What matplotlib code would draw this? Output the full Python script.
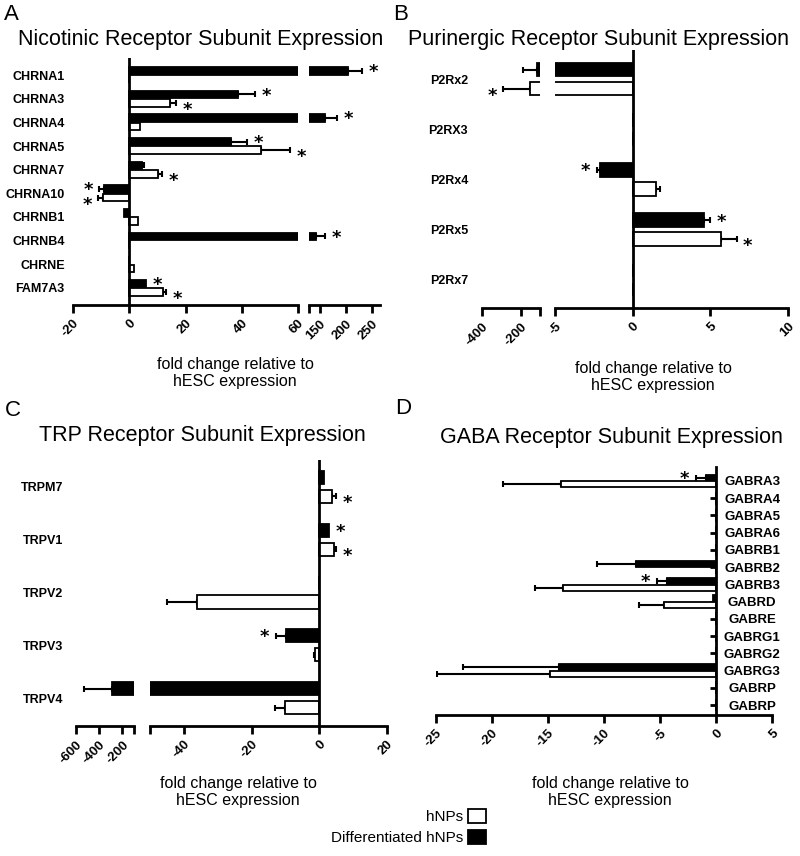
import numpy as np
import matplotlib.pyplot as plt
from matplotlib.patches import Patch

plt.rcParams['font.family'] = ['Liberation Sans', 'DejaVu Sans']

# A - nicotinic
nic_genes = ['CHRNA1', 'CHRNA3', 'CHRNA4', 'CHRNA5', 'CHRNA7',
             'CHRNA10', 'CHRNB1', 'CHRNB4', 'CHRNE', 'FAM7A3']
nic_diff = [204, 38.8, 160, 36, 4.6, -8.9, -1.8, 143, 0, 6]
nic_diff_err = [27, 6, 23, 6, 0.5, 1.8, 0, 17, 0, 0]
nic_diff_sig = [1, 1, 1, 1, 0, 1, 0, 1, 0, 1]
nic_hnp = [0, 14.6, 3.8, 47, 10.3, -9.3, 3.2, 0, 1.8, 12.1]
nic_hnp_err = [0, 2.1, 0, 10.3, 1.4, 1.8, 0, 0, 0, 1.0]
nic_hnp_sig = [0, 1, 0, 1, 1, 1, 0, 0, 0, 1]

# B - purinergic
p2_genes = ['P2Rx2', 'P2RX3', 'P2Rx4', 'P2Rx5', 'P2Rx7']
p2_diff = [-116, 0, -2.1, 4.6, 0]
p2_diff_err = [72, 0, 0.2, 0.4, 0]
p2_diff_sig = [0, 0, 1, 1, 0]
p2_hnp = [-152, 0, 1.5, 5.7, 0]
p2_hnp_err = [139, 0, 0.25, 1.0, 0]
p2_hnp_sig = [1, 0, 0, 1, 0]

# C - TRP
trp_genes = ['TRPM7', 'TRPV1', 'TRPV2', 'TRPV3', 'TRPV4']
trp_diff = [1.5, 3.0, 0, -9.8, -290]
trp_diff_err = [0, 0, 0, 3.0, 241]
trp_diff_sig = [0, 1, 0, 1, 0]
trp_hnp = [3.9, 4.2, -36.2, -1.2, -10]
trp_hnp_err = [1.1, 0.8, 8.9, 0.4, 3]
trp_hnp_sig = [1, 1, 0, 0, 0]

# D - GABA
gaba_genes = ['GABRA3', 'GABRA4', 'GABRA5', 'GABRA6', 'GABRB1', 'GABRB2', 'GABRB3',
              'GABRD', 'GABRE', 'GABRG1', 'GABRG2', 'GABRG3', 'GABRP', 'GABRP']
gaba_diff = [-0.9, 0, 0, 0, 0, -7.1, -4.4, -0.3, 0, 0, 0, -14.0, 0, 0]
gaba_diff_err = [0.9, 0, 0, 0, 0, 3.5, 0.9, 0, 0, 0, 0, 8.6, 0, 0]
gaba_diff_sig = [1, 0, 0, 0, 0, 0, 1, 0, 0, 0, 0, 0, 0, 0]
gaba_hnp = [-13.8, 0, 0, 0, 0, 0, -13.7, -4.6, 0, 0, 0, -14.8, 0, 0]
gaba_hnp_err = [5.2, 0, 0, 0, 0, 0, 2.5, 2.3, 0, 0, 0, 10.1, 0, 0]
gaba_hnp_sig = [0] * 14

XLABEL = 'fold change relative to\nhESC expression'


def draw_bars(ax, n, diff, diff_err, diff_sig, hnp, hnp_err, hnp_sig, h, off):
    y = np.arange(n)
    # black bars sit above the row centre, their star a little higher; white below
    series = [(diff, diff_err, diff_sig, y - off, 'black', -1),
              (hnp, hnp_err, hnp_sig, y + off, 'white', -5)]
    for vals, errs, sig, yy, col, dy in series:
        vals = np.asarray(vals, float)
        errs = np.asarray(errs, float)
        ax.barh(yy, vals, height=h, color=col, edgecolor='black', linewidth=1.3, zorder=2)
        m = errs > 0
        lo = np.where(vals < 0, errs, 0)[m]
        hi = np.where(vals >= 0, errs, 0)[m]
        ax.errorbar(vals[m], yy[m], xerr=[lo, hi], fmt='none', ecolor='black',
                    elinewidth=1.5, capsize=2.5, capthick=1.5, zorder=1)
        for v, e, s, yv in zip(vals, errs, sig, yy):
            if s:
                sign = -1 if v < 0 else 1
                ax.annotate('*', (v + sign * e, yv), xytext=(sign * 8, dy),
                            textcoords='offset points', ha='center', va='center',
                            fontsize=13, fontweight='bold', family='DejaVu Sans')


def style(ax, xlim, ylim, ticks, labels):
    ax.set_xlim(xlim)
    ax.set_ylim(ylim)
    for s in ('top', 'right', 'left'):
        ax.spines[s].set_visible(False)
    ax.spines['bottom'].set_linewidth(2)
    ax.set_xticks(ticks)
    ax.set_xticklabels(labels, rotation=45, ha='right', va='top',
                       rotation_mode='anchor', fontweight='bold', fontsize=9.5)
    ax.tick_params(axis='x', direction='out', length=6, width=2, pad=3)
    ax.tick_params(axis='y', length=0)
    ax.set_facecolor('none')


def ylabels(ax, genes, pad):
    ax.set_yticks(np.arange(len(genes)))
    ax.set_yticklabels(genes, fontweight='bold', fontsize=9)
    ax.tick_params(axis='y', length=0, pad=pad)


def hide_y(ax):
    ax.set_yticks([])


W, H = 800, 856
fig = plt.figure(figsize=(8, 8.56), dpi=100)


def px_axes(x0, x1, y0, y1):
    return fig.add_axes([x0 / W, 1 - y1 / H, (x1 - x0) / W, (y1 - y0) / H])


# ---- panel A
a1 = px_axes(73, 298, 58, 305)
a2 = px_axes(309, 380, 58, 305)
ylimA = (9.72, -0.72)
for ax in (a1, a2):
    draw_bars(ax, 10, nic_diff, nic_diff_err, nic_diff_sig,
              nic_hnp, nic_hnp_err, nic_hnp_sig, 0.32, 0.18)
style(a1, (-20, 60), ylimA, [-20, 0, 20, 40, 60], ['-20', '0', '20', '40', '60'])
style(a2, (130, 265), ylimA, [130, 150, 200, 250], ['', '150', '200', '250'])
a1.axvline(0, color='black', lw=2, zorder=3)
ylabels(a1, nic_genes, 6)
hide_y(a2)

# ---- panel B
b1 = px_axes(482, 540, 50, 308)
b2 = px_axes(555, 788, 50, 308)
ylimB = (4.56, -0.58)
for ax in (b1, b2):
    draw_bars(ax, 5, p2_diff, p2_diff_err, p2_diff_sig,
              p2_hnp, p2_hnp_err, p2_hnp_sig, 0.27, 0.19)
style(b1, (-400, -100), ylimB, [-400, -200, -100], ['-400', '-200', ''])
style(b2, (-5, 10), ylimB, [-5, 0, 5, 10], ['-5', '0', '5', '10'])
b2.axvline(0, color='black', lw=2, zorder=3)
ylabels(b1, p2_genes, 10)
hide_y(b2)

# ---- panel C
c1 = px_axes(76, 134, 460, 726)
c2 = px_axes(150, 387, 460, 726)
ylimC = (4.53, -0.51)
for ax in (c1, c2):
    draw_bars(ax, 5, trp_diff, trp_diff_err, trp_diff_sig,
              trp_hnp, trp_hnp_err, trp_hnp_sig, 0.25, 0.18)
style(c1, (-600, -100), ylimC, [-600, -400, -200, -100], ['-600', '-400', '-200', ''])
style(c2, (-50, 20), ylimC, [-50, -40, -20, 0, 20], ['', '-40', '-20', '0', '20'])
c2.axvline(0, color='black', lw=2, zorder=3)
ylabels(c1, trp_genes, 9)
hide_y(c2)

# ---- panel D
d = px_axes(436, 772, 467, 715)
draw_bars(d, 14, gaba_diff, gaba_diff_err, gaba_diff_sig,
          gaba_hnp, gaba_hnp_err, gaba_hnp_sig, 0.36, 0.19)
style(d, (-25, 5), (13.58, -0.81), [-25, -20, -15, -10, -5, 0, 5],
      ['-25', '-20', '-15', '-10', '-5', '0', '5'])
d.spines['right'].set_visible(True)
d.spines['right'].set_position(('data', 0))
d.spines['right'].set_linewidth(2)
d.yaxis.tick_right()
d.set_yticks(np.arange(len(gaba_genes)))
d.set_yticklabels(gaba_genes, fontweight='bold', fontsize=9.5, ha='center')
d.tick_params(axis='y', direction='in', length=4, width=2, pad=26)

# ---- titles, panel letters, axis labels
titles = [('Nicotinic Receptor Subunit Expression', 201, 40),
          ('Purinergic Receptor Subunit Expression', 599, 40),
          ('TRP Receptor Subunit Expression', 202, 435),
          ('GABA Receptor Subunit Expression', 611, 438)]
for t, x, y in titles:
    fig.text(x / W, 1 - y / H, t, ha='center', va='center', fontsize=15.5)

for t, x, y in [('A', 4, 14), ('B', 393, 14), ('C', 5, 410), ('D', 395, 409)]:
    fig.text(x / W, 1 - y / H, t, ha='left', va='center', fontsize=16)

for x, y in [(235, 373), (653, 377), (238, 792), (610, 792)]:
    fig.text(x / W, 1 - y / H, XLABEL, ha='center', va='center',
             fontsize=11.5, linespacing=1.15)

handles = [Patch(facecolor='white', edgecolor='black', linewidth=1.3),
           Patch(facecolor='black', edgecolor='black', linewidth=1.3)]
fig.legend(handles, ['hNPs', 'Differentiated hNPs'], loc='upper right',
           bbox_to_anchor=(486 / W, 1 - 809 / H), frameon=False, markerfirst=False,
           fontsize=11, handlelength=1.2, handleheight=1.0, handletextpad=0.3,
           labelspacing=0.4, borderpad=0, borderaxespad=0)

fig.savefig('out.png', dpi=100)
